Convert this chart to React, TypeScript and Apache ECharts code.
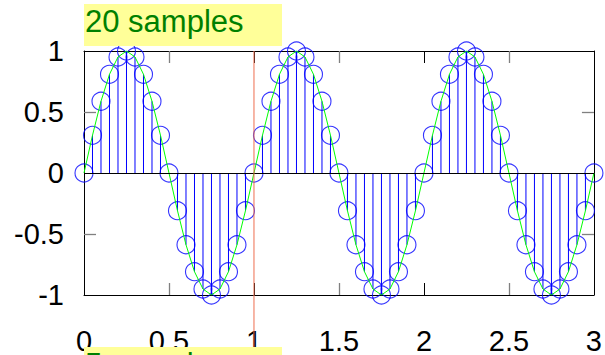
import React, { useEffect, useRef } from "react";
import * as echarts from "echarts";

const sampleX = [
  0, 0.05, 0.1, 0.15, 0.2, 0.25, 0.3, 0.35, 0.4, 0.45,
  0.5, 0.55, 0.6, 0.65, 0.7, 0.75, 0.8, 0.85, 0.9, 0.95,
  1, 1.05, 1.1, 1.15, 1.2, 1.25, 1.3, 1.35, 1.4, 1.45,
  1.5, 1.55, 1.6, 1.65, 1.7, 1.75, 1.8, 1.85, 1.9, 1.95,
  2, 2.05, 2.1, 2.15, 2.2, 2.25, 2.3, 2.35, 2.4, 2.45,
  2.5, 2.55, 2.6, 2.65, 2.7, 2.75, 2.8, 2.85, 2.9, 2.95,
  3,
];

const sampleY = [
  0, 0.309, 0.588, 0.809, 0.951, 1, 0.951, 0.809, 0.588, 0.309,
  0, -0.309, -0.588, -0.809, -0.951, -1, -0.951, -0.809, -0.588, -0.309,
  0, 0.309, 0.588, 0.809, 0.951, 1, 0.951, 0.809, 0.588, 0.309,
  0, -0.309, -0.588, -0.809, -0.951, -1, -0.951, -0.809, -0.588, -0.309,
  0, 0.309, 0.588, 0.809, 0.951, 1, 0.951, 0.809, 0.588, 0.309,
  0, -0.309, -0.588, -0.809, -0.951, -1, -0.951, -0.809, -0.588, -0.309,
  0,
];

const xTickValues = ["0", "0.5", "1", "1.5", "2", "2.5", "3"];
const yTickValues = ["-1", "-0.5", "0", "0.5", "1"];
const markerX = [1];
const topTitle = "20 samples";
const bottomTitle = "5 samples";

const FONT = "'Liberation Sans', Arial, Helvetica, sans-serif";

export default function App() {
  const ref = useRef<HTMLDivElement>(null);

  useEffect(() => {
    document.body.style.margin = "0";
    const el = ref.current!;
    const chart = echarts.init(el, undefined, { renderer: "svg" });
    const points = sampleX.map((x, i) => [x, sampleY[i]]);

    const xMin = Number(xTickValues[0]);
    const xMax = Number(xTickValues[xTickValues.length - 1]);
    const yMin = Number(yTickValues[0]);
    const yMax = Number(yTickValues[yTickValues.length - 1]);

    const tickAxis = (position: string, min: number, max: number, showLine: boolean) => ({
      type: "value",
      position,
      min,
      max,
      interval: 1,
      axisLine: { show: showLine, onZero: false, lineStyle: { color: "#000", width: 1 } },
      axisTick: { show: true, inside: true, length: 12, lineStyle: { color: "#000", width: 1 } },
      minorTick: { show: true, splitNumber: 2, length: 12, lineStyle: { color: "#808080", width: 1.3 } },
      axisLabel: { show: false },
      splitLine: { show: false },
      minorSplitLine: { show: false },
    });

    chart.setOption({
      animation: false,
      backgroundColor: "#fff",
      grid: { left: 84, right: 8, top: 51, bottom: 59, containLabel: false },
      xAxis: [
        {
          type: "value",
          position: "bottom",
          min: xMin,
          max: xMax,
          interval: 0.5,
          axisLine: { show: true, onZero: false, lineStyle: { color: "#000", width: 1 } },
          axisTick: { show: false },
          splitLine: { show: false },
          axisLabel: {
            show: true,
            margin: 31,
            color: "#000",
            fontSize: 29,
            fontFamily: FONT,
            formatter: (v: number) => {
              const s = xTickValues.find((t) => Number(t) === v);
              return s ?? String(v);
            },
          },
        },
        tickAxis("bottom", xMin, xMax, false),
        tickAxis("top", xMin, xMax, true),
      ],
      yAxis: [
        {
          type: "value",
          position: "left",
          min: yMin,
          max: yMax,
          interval: 0.5,
          axisLine: { show: true, onZero: false, lineStyle: { color: "#000", width: 1 } },
          axisTick: { show: false },
          splitLine: { show: false },
          axisLabel: {
            show: true,
            margin: 20,
            color: "#000",
            fontSize: 29,
            fontFamily: FONT,
            padding: [6, 0, 0, 0],
            formatter: (v: number) => {
              const s = yTickValues.find((t) => Number(t) === v);
              return s ?? String(v);
            },
          },
        },
        tickAxis("left", yMin, yMax, false),
        tickAxis("right", yMin, yMax, true),
      ],
      series: [
        {
          type: "custom",
          xAxisIndex: 0,
          yAxisIndex: 0,
          data: points,
          clip: false,
          renderItem: (params: any, api: any) => {
            const p0 = api.coord([api.value(0), 0]);
            const p1 = api.coord([api.value(0), api.value(1)]);
            return {
              type: "line",
              shape: { x1: p0[0], y1: p0[1], x2: p1[0], y2: p1[1] },
              style: { stroke: "#0000ff", lineWidth: 1 },
            };
          },
          markLine: {
            silent: true,
            symbol: "none",
            label: { show: false },
            lineStyle: { color: "#000", type: "solid", width: 1 },
            data: [{ yAxis: 0 }],
          },
          z: 2,
        },
        {
          type: "scatter",
          xAxisIndex: 0,
          yAxisIndex: 0,
          data: points,
          clip: false,
          symbol: "circle",
          symbolSize: 18,
          itemStyle: { color: "rgba(0,0,0,0)", borderColor: "#0000ff", borderWidth: 1.1 },
          z: 3,
        },
        {
          type: "line",
          xAxisIndex: 0,
          yAxisIndex: 0,
          data: points,
          showSymbol: false,
          symbol: "none",
          lineStyle: { color: "#00ff00", width: 1 },
          z: 4,
        },
      ],
    });

    const topY = chart.convertToPixel({ yAxisIndex: 0 }, yMax) as number;
    const markers = markerX.map((mx) => {
      const px = chart.convertToPixel({ xAxisIndex: 0 }, mx) as number;
      return {
        type: "line",
        z: 50,
        shape: { x1: px, y1: topY, x2: px, y2: 355 },
        style: { stroke: "#ef6e4f", lineWidth: 1 },
        silent: true,
      };
    });

    chart.setOption({
      graphic: [
        ...markers,
        { type: "rect", z: 100, shape: { x: 84, y: 4, width: 198, height: 42 }, style: { fill: "#ffff99" } },
        {
          type: "text",
          z: 101,
          x: 85,
          y: 21,
          style: { text: topTitle, fill: "#008000", fontSize: 31, fontFamily: FONT, verticalAlign: "middle", align: "left" },
        },
        { type: "rect", z: 100, shape: { x: 84, y: 347, width: 198, height: 42 }, style: { fill: "#ffff99" } },
        {
          type: "text",
          z: 101,
          x: 85,
          y: 364,
          style: { text: bottomTitle, fill: "#008000", fontSize: 31, fontFamily: FONT, verticalAlign: "middle", align: "left" },
        },
      ],
    });

    return () => chart.dispose();
  }, []);

  return <div ref={ref} style={{ width: 605, height: 355 }} />;
}
